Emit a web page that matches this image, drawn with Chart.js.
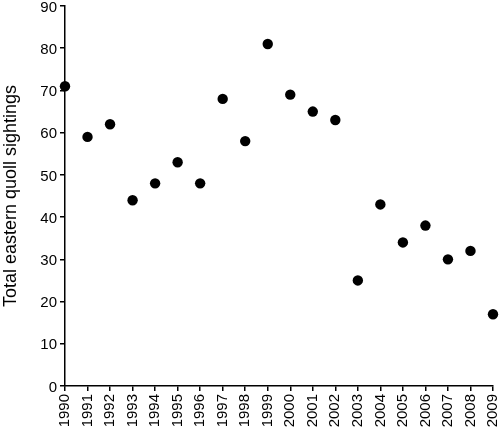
<!DOCTYPE html>
<html>
<head>
<meta charset="utf-8">
<script src="https://cdn.jsdelivr.net/npm/chart.js@4/dist/chart.umd.min.js"></script>
<style>
html,body{margin:0;padding:0;background:#fff;}
#wrap{width:500px;height:430px;position:relative;}
</style>
</head>
<body>
<div id="wrap"><canvas id="c" width="500" height="430"></canvas></div>
<script>
const years = [1990,1991,1992,1993,1994,1995,1996,1997,1998,1999,2000,2001,2002,2003,2004,2005,2006,2007,2008,2009];
const sightings = [71,59,62,44,48,53,48,68,58,81,69,65,63,25,43,34,38,30,32,17];
const yTicks = [0,10,20,30,40,50,60,70,80,90];
const yTitle = "Total eastern quoll sightings";

const points = years.map((y,i)=>({x:y, y:sightings[i]}));
const fam = "'Liberation Sans', Arial, Helvetica, sans-serif";
const font = {family:fam, size:15};

function noPad(s){ s.paddingTop=0; s.paddingBottom=0; s.paddingLeft=0; s.paddingRight=0; }

new Chart(document.getElementById('c'), {
  type:'scatter',
  data:{datasets:[{data:points, backgroundColor:'#000', borderColor:'#000', pointRadius:5.2, pointHoverRadius:5.2, borderWidth:0, clip:false}]},
  options:{
    responsive:false, animation:false, devicePixelRatio:1,
    layout:{padding:{top:6,right:7,left:0,bottom:0}},
    plugins:{legend:{display:false}, tooltip:{enabled:false}},
    scales:{
      x:{type:'linear', min:years[0], max:years[years.length-1],
        afterBuildTicks:(s)=>{s.ticks = years.map(v=>({value:v}));},
        afterFit:(s)=>{s.height=44; noPad(s);},
        border:{display:true,color:'#000',width:1.5},
        grid:{display:true,drawOnChartArea:false,drawTicks:true,tickLength:5,color:'#000',lineWidth:1.5},
        ticks:{font:font,color:'#000',minRotation:90,maxRotation:90,padding:3,autoSkip:false,callback:(v)=>String(v)}
      },
      y:{min:0,max:90,
        afterBuildTicks:(s)=>{s.ticks = yTicks.map(v=>({value:v}));},
        afterFit:(s)=>{s.width=65; noPad(s);},
        border:{display:true,color:'#000',width:1.5},
        grid:{display:true,drawOnChartArea:false,drawTicks:true,tickLength:5,color:'#000',lineWidth:1.5},
        ticks:{font:font,color:'#000',padding:3,labelOffset:1.5},
        title:{display:true,text:yTitle,font:{family:fam,size:18},color:'#000',padding:{top:0,bottom:0}}
      }
    }
  }
});
</script>
</body>
</html>
